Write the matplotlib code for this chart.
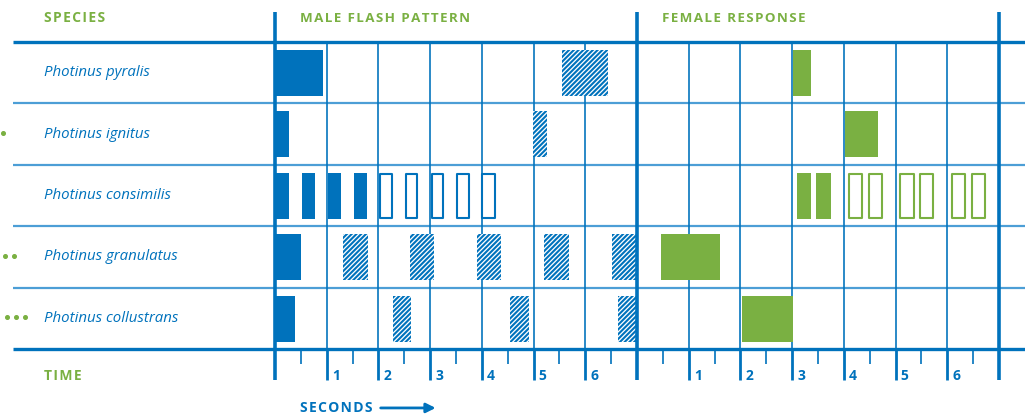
import matplotlib
matplotlib.use('Agg')
import matplotlib.pyplot as plt

plt.rcParams['font.family'] = ['Open Sans', 'DejaVu Sans']
plt.rcParams['hatch.linewidth'] = 1.5

BLUE = '#0072BC'
LIGHT = '#4C9ED6'
GREEN = '#7AB042'

species = ['Photinus pyralis', 'Photinus ignitus', 'Photinus consimilis',
           'Photinus granulatus', 'Photinus collustrans']
trail_dots = [0, 1, 0, 2, 3]

# (start, width) in seconds
male_solid = [
    [(0.0, 0.93)],
    [(0.0, 0.27)],
    [(0.0, 0.27), (0.52, 0.25), (1.02, 0.26), (1.53, 0.24)],
    [(0.0, 0.50)],
    [(0.0, 0.39)],
]
male_hatched = [
    [(5.55, 0.89)],
    [(4.99, 0.26)],
    [],
    [(1.32, 0.48), (2.61, 0.47), (3.90, 0.47), (5.20, 0.49), (6.52, 0.46)],
    [(2.28, 0.35), (4.55, 0.36), (6.63, 0.35)],
]
male_outline = [
    [], [],
    [(2.03, 0.23), (2.53, 0.22), (3.03, 0.22), (3.52, 0.23), (4.01, 0.25)],
    [], [],
]
female_solid = [
    [(3.02, 0.35)],
    [(4.02, 0.64)],
    [(3.09, 0.28), (3.47, 0.28)],
    [(0.46, 1.14)],
    [(2.03, 0.99)],
]
female_outline = [
    [], [],
    [(4.09, 0.26), (4.48, 0.26), (5.09, 0.26), (5.47, 0.26), (6.09, 0.26), (6.47, 0.26)],
    [], [],
]
seconds = [1, 2, 3, 4, 5, 6]
female_offset = 7


def spaced(s):
    # a little letter spacing, like the original headings
    return '\u200a'.join(s)


fig = plt.figure(figsize=(10.25, 4.17), dpi=100)
ax = fig.add_axes([0, 0, 1, 1])
pps = 362 / 7.0          # pixels per second
rowh = 61.4              # pixels per row
ax.set_xlim(-275 / pps, (1025 - 275) / pps)
ax.set_ylim((417 - 42) / rowh, -42 / rowh)
ax.axis('off')

n = len(species)
xleft = (13 - 275) / pps
xright = (1025 - 275) / pps

# horizontal lines
ax.hlines(range(1, n), xleft, xright, color=LIGHT, lw=1.6, zorder=1)
ax.hlines([0, n], xleft, xright, color=BLUE, lw=2.4, zorder=3)

# vertical grid and ticks
for off in [0, female_offset]:
    xs = [s + off for s in seconds]
    ax.vlines(xs, 0, n, color=BLUE, lw=1.3, alpha=0.9, zorder=1)
    ax.vlines(xs, n, n + 0.5, color=BLUE, lw=2.0, zorder=3)
    ax.vlines([s + off - 0.5 for s in seconds + [7]], n, n + 0.25, color=BLUE, lw=1.2, zorder=3)
    for s in seconds:
        ax.text(s + off + 0.1, n + 0.44, str(s), color=BLUE, fontsize=10,
                fontweight='bold', ha='left', va='center')
ax.vlines([0, 7, 14], -0.49, n + 0.5, color=BLUE, lw=2.6, zorder=4)

# bars
for i in range(n):
    yr = (i + 0.13, 0.75)
    ax.broken_barh(male_solid[i], yr, facecolor=BLUE, edgecolor='none', zorder=2)
    if male_hatched[i]:
        ax.broken_barh(male_hatched[i], yr, facecolor='white', edgecolor=BLUE,
                       hatch='///////', linewidth=0, zorder=2)
    if male_outline[i]:
        ax.broken_barh(male_outline[i], (i + 0.145, 0.72), facecolor='white',
                       edgecolor=BLUE, linewidth=1.5, zorder=2)
    ax.broken_barh([(s + female_offset, w) for s, w in female_solid[i]], yr,
                   facecolor=GREEN, edgecolor='none', zorder=2)
    if female_outline[i]:
        ax.broken_barh([(s + female_offset, w) for s, w in female_outline[i]],
                       (i + 0.145, 0.72), facecolor='white', edgecolor=GREEN,
                       linewidth=1.5, zorder=2)
    ax.text(-231 / pps, i + 0.5, species[i], color=BLUE, fontsize=10.8,
            style='italic', ha='left', va='center')
    # green trailing dots at the left edge
    for k in range(trail_dots[i]):
        ax.plot((3 + 2 * (trail_dots[i] - 1) + 9 * k - 275) / pps, i + 0.48, 'o',
                color=GREEN, ms=2.6, clip_on=False)

# headers
ax.text(-231 / pps, -0.39, spaced('SPECIES'), color=GREEN, fontsize=10,
        fontweight='bold', ha='left', va='center')
ax.text(0.48, -0.39, spaced('MALE FLASH PATTERN'), color=GREEN, fontsize=9.6,
        fontweight='bold', ha='left', va='center')
ax.text(7.48, -0.39, spaced('FEMALE RESPONSE'), color=GREEN, fontsize=9.6,
        fontweight='bold', ha='left', va='center')
ax.text(-231 / pps, n + 0.44, spaced('TIME'), color=GREEN, fontsize=10,
        fontweight='bold', ha='left', va='center')
ax.text(0.48, 5.96, spaced('SECONDS'), color=BLUE, fontsize=10,
        fontweight='bold', ha='left', va='center')
ax.annotate('', xy=(3.16, 5.96), xytext=(1.99, 5.96),
            arrowprops=dict(arrowstyle='-|>', color=BLUE, lw=2, mutation_scale=14))

fig.savefig('out.png', dpi=100)
